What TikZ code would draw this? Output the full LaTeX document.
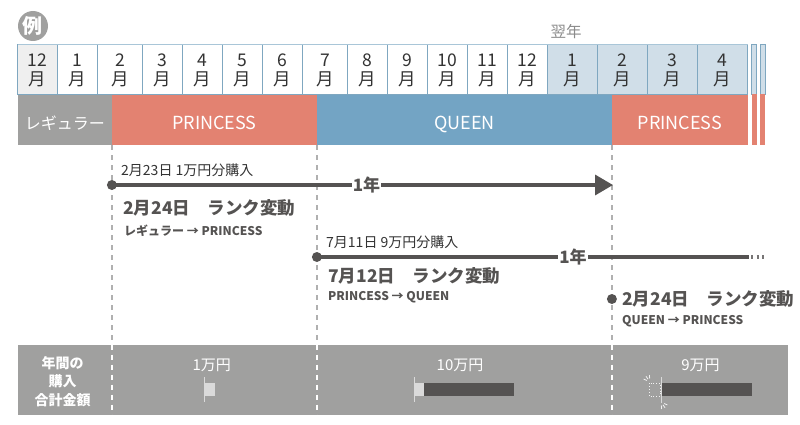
\documentclass[tikz,border=0pt]{standalone}
\usepackage{fontspec}
\setmainfont{Noto Sans CJK JP}
\usetikzlibrary{positioning,calc,arrows.meta}
\definecolor{Regular}{HTML}{A0A09F}
\definecolor{Princess}{HTML}{E38271}
\definecolor{Queen}{HTML}{73A4C4}
\definecolor{NextYear}{HTML}{D0DEE8}
\definecolor{LastYear}{HTML}{EFEFEF}
\definecolor{GridLine}{HTML}{7FA7C0}
\definecolor{GridTop}{HTML}{A9C6D8}
\definecolor{Dark}{HTML}{555352}
\definecolor{Ink}{HTML}{333333}
\definecolor{Muted}{HTML}{8A8A8A}
\definecolor{LightBar}{HTML}{DADADA}
\definecolor{DashGray}{HTML}{B0B0B0}

\tikzset{
	monthlabel/.style={text=Ink, align=center, inner sep=0pt,
		font=\fontsize{17.5}{19}\selectfont},
	rankbar/.style={minimum height=50.5pt, inner sep=0pt, text=white,
		text height=20pt, text depth=0pt,
		anchor=west, font=\fontsize{18}{18}\selectfont},
	dot/.style={circle, fill=Dark, inner sep=0pt, minimum size=10pt},
	yearline/.style={draw=Dark, line width=3.5pt},
	yearlabel/.style={fill=white, text=Dark, inner sep=1pt,
		font=\bfseries\fontsize{17}{17}\selectfont},
	buytext/.style={anchor=west, text=Ink, inner sep=0pt,
		font=\fontsize{14}{14}\selectfont},
	changetext/.style={anchor=west, text=Dark, inner sep=0pt,
		font=\bfseries\fontsize{17.5}{17.5}\selectfont},
	fromto/.style={anchor=west, text=Dark, inner sep=0pt,
		font=\bfseries\fontsize{12}{12}\selectfont},
	dashline/.style={draw=DashGray, line width=1.3pt, dash pattern=on 5pt off 5pt},
	amount/.style={text=white, inner sep=0pt, font=\fontsize{15}{15}\selectfont},
	tickline/.style={draw=LightBar, line width=1pt},
	sparkle/.style={draw=white!90!gray, line width=0.8pt}
}

\begin{document}
\begin{tikzpicture}[x=1pt, y=-1pt]
	\useasboundingbox (0,0) rectangle (800,425);
	
	% example badge
	\node[circle, fill=Regular, minimum size=30pt, inner sep=0pt, text=white,
	font=\bfseries\fontsize{20}{20}\selectfont] (badge) at (33,26) {例};
	\node[text=Muted, font=\fontsize{15.5}{15.5}\selectfont] (nextyear) at (566,32) {翌年};
	
	% month header
	\foreach \xl/\xr/\mon/\bg [count=\i] in {
		17.5/57.5/12/LastYear, 57.5/97.5/1/white, 97.5/142.5/2/white,
		142.5/182.5/3/white, 182.5/222.5/4/white, 222.5/262.5/5/white,
		262.5/302.5/6/white, 302.5/347.5/7/white, 347.5/387.5/8/white,
		387.5/427.5/9/white, 427.5/467.5/10/white, 467.5/507.5/11/white,
		507.5/547.5/12/white, 547.5/597.5/1/NextYear, 597.5/647.5/2/NextYear,
		647.5/697.5/3/NextYear, 697.5/747.5/4/NextYear}
	{
		\draw[draw=GridLine, fill=\bg, line width=0.8pt] (\xl,44.5) rectangle (\xr,94.5);
		\node[monthlabel] (m\i) at ({(\xl+\xr)/2},70.5) {\mon\\月};
	}
	\draw[GridTop, line width=1.6pt] (17.5,44.5) -- (747.5,44.5);
	
	% rank bar
	\node[rankbar, fill=Regular, minimum width=94.2pt, font=\fontsize{16}{16}\selectfont] (regular) at (17.5,120) {レギュラー};
	\node[rankbar, fill=Princess, minimum width=205pt] (princess1) at (111.7,120) {PRINCESS};
	\node[rankbar, fill=Queen, minimum width=295pt] (queen) at (316.7,120) {QUEEN};
	\node[rankbar, fill=Princess, minimum width=136pt] (princess2) at (611.7,120) {PRINCESS};
	\foreach \sx in {751.7,760} {
		\draw[draw=GridLine, fill=NextYear, line width=0.8pt] (\sx,44.5) rectangle ++(5,50);
		\fill[Princess] (\sx,94.5) rectangle ++(5,50.5);
	}
	
	% boundaries
	\foreach \bx [count=\j] in {111.9,316.9,611.9} {
		\coordinate (top\j) at (\bx,145);
		\coordinate (mid\j) at (\bx,344.5);
		\coordinate (bot\j) at (\bx,415);
		\draw[dashline] (top\j) -- (mid\j);
	}
	
	% first purchase
	\node[buytext] (buy1text) at (121,170) {2月23日 1万円分購入};
	\node[dot] (buy1) at (111.9,185) {};
	\coordinate (end1) at (613,185);
	\draw[yearline, -{Triangle[length=18pt,width=20pt]}] (buy1.center) -- node[yearlabel, pos=0.508] (year1) {1年} (end1);
	\node[changetext] (change1) at (123,208) {2月24日　ランク変動};
	\node[fromto] (fromto1) at (124,230.5) {レギュラー → PRINCESS};
	
	% second purchase
	\node[buytext] (buy2text) at (326,242.5) {7月11日 9万円分購入};
	\node[dot] (buy2) at (316.9,257) {};
	\coordinate (end2) at (749,257);
	\coordinate (more2) at (765,257);
	\draw[yearline] (buy2.center) -- (end2);
	\draw[Dark!80, line width=3.5pt, dash pattern=on 2pt off 3.5pt] (end2) ++(2,0) -- (more2);
	\node[yearlabel] (year2) at (573,257) {1年};
	\node[changetext] (change2) at (328,276) {7月12日　ランク変動};
	\node[fromto] (fromto2) at (328,297.5) {PRINCESS → QUEEN};
	
	% rank review
	\node[dot] (rank3) at (611.9,299) {};
	\node[changetext] (change3) at (622,299) {2月24日　ランク変動};
	\node[fromto] (fromto3) at (622,321) {QUEEN → PRINCESS};
	
	% yearly totals
	\node[fill=Regular, minimum width=770.2pt, minimum height=70.5pt, inner sep=0pt,
	anchor=north west] (totals) at (17.5,344.5) {};
	\foreach \j in {1,2,3} {
		\draw[dashline, draw=white] (mid\j) -- (bot\j);
	}
	\node[text=white, align=center, inner sep=0pt,
	font=\bfseries\fontsize{14}{18.5}\selectfont] (totalhead) at (62.5,381.5) {年間の\\購入\\合計金額};
	\node[amount] (amt1) at (211.7,365) {1万円};
	\node[amount] (amt2) at (460,365) {10万円};
	\node[amount] (amt3) at (700.5,365) {9万円};
	
	% bars
	\draw[tickline] (204.3,377) -- (204.3,402);
	\fill[LightBar] (204.8,383.3) rectangle (215,396);
	\draw[tickline] (414,377) -- (414,402);
	\fill[LightBar] (414.5,383.3) rectangle (424,396);
	\fill[Dark] (424,383.3) rectangle (514.3,396);
	\draw[draw=white!90!gray, line width=0.8pt, dotted] (649.3,383.3) rectangle (660,396);
	\draw[tickline] (661,377) -- (661,403);
	\fill[Dark] (662,383.3) rectangle (751.7,396);
	\coordinate (spark1) at (650,382);
	\coordinate (spark2) at (661,402);
	\foreach \ang in {205,235,265} {
		\draw[sparkle] ($(spark1)+(\ang:3.5)$) -- ($(spark1)+(\ang:7)$);
	}
	\foreach \ang in {25,55,85} {
		\draw[sparkle] ($(spark2)+(\ang:3.5)$) -- ($(spark2)+(\ang:7)$);
	}
\end{tikzpicture}
\end{document}
